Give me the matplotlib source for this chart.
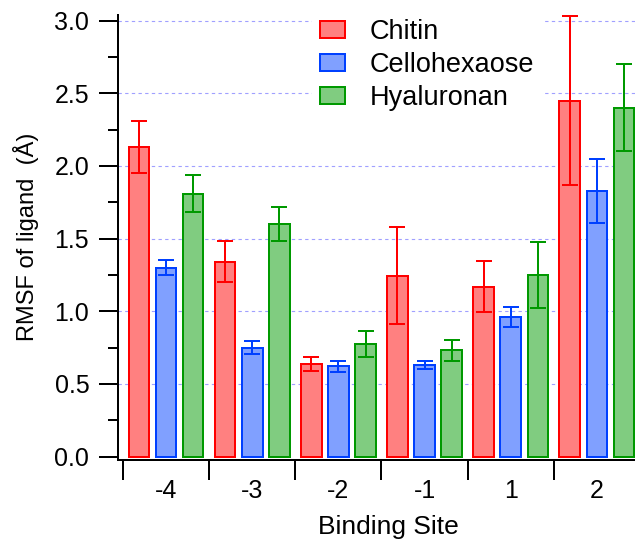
import matplotlib
matplotlib.use("Agg")
import matplotlib.pyplot as plt
import numpy as np
from matplotlib.ticker import MultipleLocator, FixedLocator, FormatStrFormatter

plt.rcParams['font.family'] = ['Liberation Sans', 'DejaVu Sans']

sites = ["-4", "-3", "-2", "-1", "1", "2"]
series = ["Chitin", "Cellohexaose", "Hyaluronan"]
chitin = [2.13, 1.34, 0.635, 1.245, 1.17, 2.45]
chitin_err = [0.18, 0.14, 0.047, 0.335, 0.175, 0.58]
cello = [1.30, 0.75, 0.62, 0.63, 0.96, 1.83]
cello_err = [0.05, 0.045, 0.035, 0.025, 0.07, 0.22]
hyal = [1.81, 1.60, 0.775, 0.73, 1.25, 2.40]
hyal_err = [0.13, 0.12, 0.09, 0.075, 0.225, 0.30]

values = [chitin, cello, hyal]
errors = [chitin_err, cello_err, hyal_err]
edge_colors = ["#FF0000", "#0040FF", "#009900"]
fill_colors = ["#FF8080", "#80A0FF", "#80CC80"]

W, H = 635, 540
fig = plt.figure(figsize=(W / 100, H / 100), dpi=100)
left, right, top, bottom = 118, 640, 14.8, 459.5
ax = fig.add_axes([left / W, (H - bottom) / H, (right - left) / W, (bottom - top) / H])

x = np.arange(len(sites))
offset = 0.315
width = 0.24
lw = 1.44
for i, (vals, errs, ec, fc, name) in enumerate(zip(values, errors, edge_colors, fill_colors, series)):
    pos = x + (i - 1) * offset
    ax.bar(pos, vals, width=width, color=fc, edgecolor=ec, linewidth=lw, label=name, zorder=2)
    ax.errorbar(pos, vals, yerr=errs, fmt='none', ecolor=ec, elinewidth=lw,
                capsize=5.76, capthick=lw, zorder=3)

ax.set_xlim(-0.557, 5.5)
ax.set_ylim(-0.0206, 3.04)

# y axis
ax.yaxis.set_major_locator(MultipleLocator(0.5))
ax.yaxis.set_minor_locator(MultipleLocator(0.25))
ax.tick_params(axis='y', which='major', direction='out', length=13.7, width=1.44,
               labelsize=18, pad=7)
ax.tick_params(axis='y', which='minor', direction='out', length=7, width=1.44)
ax.yaxis.set_major_formatter(FormatStrFormatter('%.1f'))

# x axis: labels at centers, ticks at boundaries
ax.set_xticks(x)
ax.set_xticklabels(sites)
ax.xaxis.set_minor_locator(FixedLocator(np.arange(-0.5, 5.6, 1.0)))
ax.tick_params(axis='x', which='major', length=0, labelsize=18, pad=14)
ax.tick_params(axis='x', which='minor', direction='out', length=14.4, width=1.44)

# grid
for yv in np.arange(0.5, 3.01, 0.5):
    ax.axhline(yv, color='#A0A0FF', linewidth=0.8, linestyle=(0, (3, 3)), zorder=0)

for s in ['top', 'right']:
    ax.spines[s].set_visible(False)
for s in ['left', 'bottom']:
    ax.spines[s].set_linewidth(1.44)

ax.set_ylabel("RMSF of ligand  (Å)", fontsize=17, labelpad=11)
ax.set_xlabel("Binding Site", fontsize=19)
ax.xaxis.set_label_coords((388 - left) / (right - left), -0.125)

fs_leg = 19.5
leg = ax.legend(loc='upper left', bbox_to_anchor=((312 - left) / (right - left), 1.008),
                fontsize=fs_leg, frameon=True, facecolor='white', edgecolor='none',
                framealpha=1, fancybox=False, handlelength=0.93, handleheight=0.6,
                handletextpad=0.89, labelspacing=0.25, borderpad=0.3, borderaxespad=0)
leg.set_zorder(5)

fig.savefig("out.png", dpi=100)
